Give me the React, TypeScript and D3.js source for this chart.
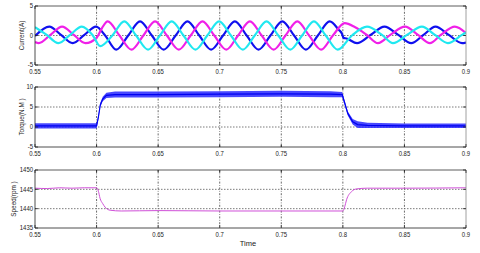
import React from "react";
import * as d3 from "d3";

const xTicks = [0.55, 0.6, 0.65, 0.7, 0.75, 0.8, 0.85, 0.9];
const xTickLabels = ["0.55", "0.6", "0.65", "0.7", "0.75", "0.8", "0.85", "0.9"];

// Phase currents: key points [time, ampere] (peaks, zero crossings, troughs)
const currentBlue: [number, number][] = [
  [0.55, -0.1], [0.5616, 1.5], [0.5711, 0.1], [0.5806, -1.3], [0.5901, 0.1], [0.5996, 1.5],
  [0.607, 0], [0.616, -2.4], [0.6257, 0], [0.6353, 2.4], [0.6449, 0], [0.6545, -2.4], [0.6642, 0],
  [0.6738, 2.4], [0.6834, 0], [0.693, -2.4], [0.7027, 0], [0.7123, 2.4], [0.7219, 0], [0.7315, -2.4],
  [0.7412, 0], [0.7508, 2.4], [0.7604, 0], [0.77, -2.4], [0.7797, 0], [0.7893, 2.4], [0.7965, 1.0],
  [0.7995, 0.2], [0.8005, -0.4], [0.803, -0.5], [0.8115, -1.3], [0.8225, 0.1], [0.8338, 1.5],
  [0.845, 0.1], [0.8555, -1.3], [0.8655, 0.1], [0.8752, 1.5], [0.886, 0.1], [0.8968, -1.3], [0.9, -1.2],
];
const currentMagenta: [number, number][] = [
  [0.55, -1.1], [0.553, -1.3], [0.5625, 0.1], [0.572, 1.5], [0.5815, 0.1], [0.591, -1.3], [0.6, -0.4],
  [0.6045, 1.3], [0.609, 2.4], [0.6186, 0], [0.6283, -2.4], [0.638, 0], [0.6475, 2.4], [0.6571, 0],
  [0.6668, -2.4], [0.6764, 0], [0.686, 2.4], [0.6956, 0], [0.7053, -2.4], [0.7149, 0], [0.7245, 2.4],
  [0.7341, 0], [0.7438, -2.4], [0.7534, 0], [0.763, 2.4], [0.7726, 0], [0.7823, -2.4], [0.7919, 0],
  [0.8015, 2.1], [0.81, 1.4], [0.8195, 0.1], [0.8285, -1.3], [0.8385, 0.1], [0.8505, 1.5], [0.861, 0.1],
  [0.8707, -1.3], [0.8795, 0.1], [0.891, 1.5], [0.9, 0.4],
];
const currentCyan: [number, number][] = [
  [0.55, 1.4], [0.5595, 0.1], [0.569, -1.3], [0.5785, 0.1], [0.588, 1.5], [0.5967, 0.1], [0.603, -1.8],
  [0.6128, 0], [0.6225, 2.4], [0.6321, 0], [0.6418, -2.4], [0.6514, 0], [0.661, 2.4], [0.6706, 0],
  [0.6803, -2.4], [0.6899, 0], [0.6995, 2.4], [0.7091, 0], [0.7188, -2.4], [0.7284, 0], [0.738, 2.4],
  [0.7476, 0], [0.7573, -2.4], [0.7669, 0], [0.7765, 2.4], [0.7861, 0], [0.7958, -2.4], [0.8074, 0],
  [0.8196, 1.5], [0.8318, 0.1], [0.8407, -1.3], [0.8521, 0.1], [0.8642, 1.5], [0.8748, 0.1],
  [0.8853, -1.3], [0.8967, 0.1], [0.9, 0.5],
];

// Torque: mean value and noise half-width
const torqueTime = [0.55, 0.6, 0.6015, 0.603, 0.605, 0.608, 0.615, 0.65, 0.7, 0.75, 0.79, 0.7995, 0.8015, 0.804, 0.808, 0.812, 0.82, 0.85, 0.9];
const torqueMean = [0.3, 0.3, 2.5, 5.5, 7.0, 7.9, 8.1, 8.1, 8.2, 8.3, 8.2, 8.1, 6.0, 3.4, 1.3, 0.6, 0.4, 0.3, 0.3];
const torqueNoise = [0.65, 0.65, 0.5, 0.5, 0.55, 0.65, 0.75, 0.75, 0.75, 0.75, 0.75, 0.65, 0.5, 0.5, 0.7, 0.85, 0.65, 0.55, 0.55];

// Speed
const speedTime = [0.55, 0.56, 0.57, 0.58, 0.59, 0.6, 0.6015, 0.6028, 0.605, 0.6069, 0.611, 0.62, 0.65, 0.7, 0.75, 0.8, 0.8015, 0.803, 0.807, 0.811, 0.82, 0.85, 0.9];
const speedValue = [1445.3, 1445.2, 1445.4, 1445.3, 1445.4, 1445.4, 1444.5, 1442.7, 1441.3, 1440.4, 1439.6, 1439.4, 1439.5, 1439.4, 1439.4, 1439.4, 1440.5, 1442.3, 1444.4, 1445.1, 1445.3, 1445.3, 1445.4];

const currentTicks = [-5, 0, 5];
const torqueTicks = [-5, 0, 5, 10];
const speedTicks = [1435, 1440, 1445, 1450];

const W = 480;
const H = 253;
const X0 = 35;
const X1 = 466;
const FONT = "'Liberation Sans', Arial, sans-serif";

const x = d3.scaleLinear().domain([0.55, 0.9]).range([X0, X1]);

type PanelProps = {
  top: number;
  bottom: number;
  domain: [number, number];
  ticks: number[];
  label: string;
  labelX: number;
  children: (y: d3.ScaleLinear<number, number>) => React.ReactNode;
};

function Panel({ top, bottom, domain, ticks, label, labelX, children }: PanelProps) {
  const y = d3.scaleLinear().domain(domain).range([bottom, top]);
  const id = `clip-${top}`;
  return (
    <g>
      <defs>
        <clipPath id={id}>
          <rect x={X0} y={top} width={X1 - X0} height={bottom - top} />
        </clipPath>
      </defs>
      <rect x={X0} y={top} width={X1 - X0} height={bottom - top} fill="#fff" />
      {xTicks.slice(1, -1).map((t) => (
        <line key={`gx${t}`} x1={x(t)} x2={x(t)} y1={top} y2={bottom} stroke="#444" strokeWidth={0.8} strokeDasharray="2,1.5,0.8,1.5" />
      ))}
      {ticks.slice(1, -1).map((t) => (
        <line key={`gy${t}`} x1={X0} x2={X1} y1={y(t)} y2={y(t)} stroke="#444" strokeWidth={0.7} strokeDasharray="1.5,1.5" />
      ))}
      <g clipPath={`url(#${id})`}>{children(y)}</g>
      <line x1={X0} x2={X1} y1={top} y2={top} stroke="#333" strokeWidth={0.8} />
      <line x1={X1} x2={X1} y1={top} y2={bottom} stroke="#888" strokeWidth={0.8} />
      <line x1={X0} x2={X0} y1={top} y2={bottom} stroke="#222" strokeWidth={0.8} />
      <line x1={X0} x2={X1} y1={bottom} y2={bottom} stroke="#222" strokeWidth={0.8} />
      {xTicks.map((t) => (
        <g key={`tx${t}`}>
          <line x1={x(t)} x2={x(t)} y1={bottom} y2={bottom - 3} stroke="#222" strokeWidth={0.8} />
          <line x1={x(t)} x2={x(t)} y1={top} y2={top + 3} stroke="#222" strokeWidth={0.8} />
        </g>
      ))}
      {ticks.map((t) => (
        <g key={`ty${t}`}>
          <line x1={X0} x2={X0 + 3} y1={y(t)} y2={y(t)} stroke="#222" strokeWidth={0.8} />
          <line x1={X1} x2={X1 - 3} y1={y(t)} y2={y(t)} stroke="#222" strokeWidth={0.8} />
        </g>
      ))}
      {xTicks.map((t, i) => (
        <text key={`lx${t}`} x={x(t)} y={bottom + 9} fontSize={7} fontFamily={FONT} textAnchor="middle" fill="#222" transform={`translate(${x(t)},0) scale(0.85,1) translate(${-x(t)},0)`}>
          {xTickLabels[i]}
        </text>
      ))}
      {ticks.map((t) => (
        <text key={`ly${t}`} x={X0 - 2} y={y(t) + 2.5} fontSize={7} fontFamily={FONT} textAnchor="end" fill="#222" transform={`translate(${X0 - 2},0) scale(0.85,1) translate(${-(X0 - 2)},0)`}>
          {t}
        </text>
      ))}
      <text
        transform={`translate(${labelX},${(top + bottom) / 2}) rotate(-90) scale(0.85,1)`}
        fontSize={7.5}
        fontFamily={FONT}
        textAnchor="middle"
        fill="#222"
      >
        {label}
      </text>
    </g>
  );
}

export default function App() {
  const curveLine = (y: d3.ScaleLinear<number, number>) =>
    d3
      .line<[number, number]>()
      .x((d) => x(d[0]))
      .y((d) => y(d[1]))
      .curve(d3.curveMonotoneX);

  return (
    <svg width={W} height={H} style={{ position: "absolute", left: 0, top: 0, background: "#fff" }}>
      <Panel top={6} bottom={65} domain={[-5, 5]} ticks={currentTicks} label="Current(A)" labelX={24}>
        {(y) => (
          <g fill="none" strokeLinejoin="round">
            <path d={curveLine(y)(currentBlue) || ""} stroke="#1010ee" strokeWidth={2.2} />
            <path d={curveLine(y)(currentMagenta) || ""} stroke="#f020e8" strokeWidth={2.2} />
            <path d={curveLine(y)(currentCyan) || ""} stroke="#20e8f0" strokeWidth={2.2} />
          </g>
        )}
      </Panel>
      <Panel top={87} bottom={147} domain={[-5, 10]} ticks={torqueTicks} label="Torque(N.M )" labelX={24}>
        {(y) => {
          const idx = torqueTime.map((_, i) => i);
          const area = d3
            .area<number>()
            .x((i) => x(torqueTime[i]))
            .y0((i) => y(torqueMean[i] - torqueNoise[i]))
            .y1((i) => y(torqueMean[i] + torqueNoise[i]));
          const line = d3
            .line<number>()
            .x((i) => x(torqueTime[i]))
            .y((i) => y(torqueMean[i]));
          return (
            <g>
              <path d={area(idx) || ""} fill="#2828ff" fillOpacity={0.85} />
              <path d={line(idx) || ""} fill="none" stroke="#0000f0" strokeWidth={1.2} />
            </g>
          );
        }}
      </Panel>
      <Panel top={170} bottom={228} domain={[1435, 1450]} ticks={speedTicks} label="Speed(rpm )" labelX={16}>
        {(y) => {
          const idx = speedTime.map((_, i) => i);
          const line = d3
            .line<number>()
            .x((i) => x(speedTime[i]))
            .y((i) => y(speedValue[i]))
            .curve(d3.curveMonotoneX);
          return <path d={line(idx) || ""} fill="none" stroke="#d050d8" strokeWidth={1} />;
        }}
      </Panel>
      <text x={248} y={246} fontSize={7.5} fontFamily={FONT} textAnchor="middle" fill="#222">
        Time
      </text>
    </svg>
  );
}
